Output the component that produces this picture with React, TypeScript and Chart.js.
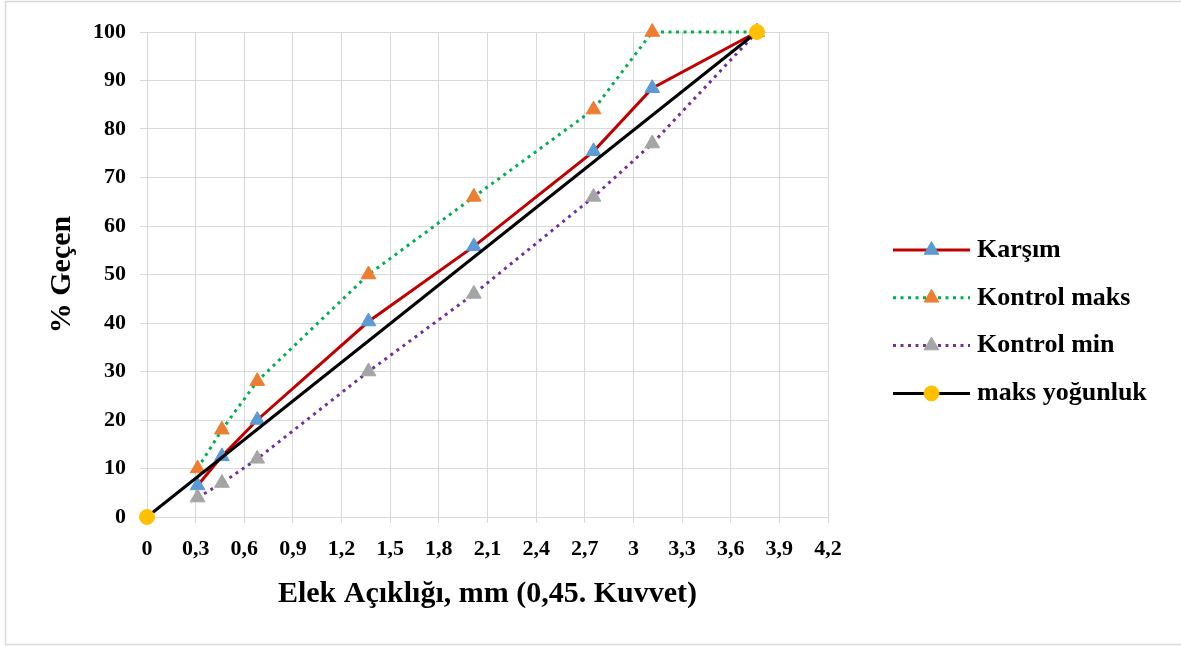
import React, { useEffect, useRef } from "react";
import { Chart, registerables } from "chart.js";

Chart.register(...registerables);

// Sieve opening raised to the 0.45 power (x), percent passing (y)
const sieveX = [0.312, 0.462, 0.68, 1.366, 2.016, 2.754, 3.116, 3.762];
const karsim = [6.5, 12.5, 20, 40.3, 55.8, 75.4, 88.4, 100];
const kontrolMaks = [10, 18, 28, 50, 66, 84, 100, 100];
const kontrolMin = [4, 7, 12, 30, 46, 66, 77, 100];
const maksYogunlukX = [0, 3.762];
const maksYogunlukY = [0, 100];
const xTickValues = [0, 0.3, 0.6, 0.9, 1.2, 1.5, 1.8, 2.1, 2.4, 2.7, 3, 3.3, 3.6, 3.9, 4.2];
const yTickValues = [0, 10, 20, 30, 40, 50, 60, 70, 80, 90, 100];
const seriesNames = ["Karşım", "Kontrol maks", "Kontrol min", "maks yoğunluk"];
const xTitle = "Elek Açıklığı, mm (0,45. Kuvvet)";
const yTitle = "% Geçen";

const FONT = "'Liberation Serif', 'Times New Roman', serif";

const toPoints = (xs: number[], ys: number[]) => xs.map((x, i) => ({ x, y: ys[i] }));

function drawMarker(ctx: CanvasRenderingContext2D, style: string, x: number, y: number, r: number, fill: string, stroke: string) {
  ctx.save();
  ctx.setLineDash([]);
  ctx.fillStyle = fill;
  ctx.strokeStyle = stroke;
  ctx.lineWidth = 1;
  ctx.beginPath();
  if (style === "triangle") {
    let rad = 0;
    const t = (2 * Math.PI) / 3;
    ctx.moveTo(x + Math.sin(rad) * r, y - Math.cos(rad) * r);
    rad += t;
    ctx.lineTo(x + Math.sin(rad) * r, y - Math.cos(rad) * r);
    rad += t;
    ctx.lineTo(x + Math.sin(rad) * r, y - Math.cos(rad) * r);
    ctx.closePath();
  } else {
    ctx.arc(x, y, r, 0, Math.PI * 2);
  }
  ctx.fill();
  ctx.stroke();
  ctx.restore();
}

const frameAndLegend = {
  id: "frameAndLegend",
  beforeDraw(chart: any) {
    const { ctx, width, height } = chart;
    ctx.save();
    ctx.fillStyle = "#ffffff";
    ctx.fillRect(0, 0, width, height);
    ctx.strokeStyle = "#D9D9D9";
    ctx.lineWidth = 1.5;
    ctx.strokeRect(5.5, 1.5, width + 10, height - 3);
    ctx.restore();
  },
  afterDraw(chart: any) {
    const { ctx } = chart;
    const startY = 250;
    const gap = 47.8;
    const lineX0 = 893;
    const lineX1 = 970;
    const textX = 977;
    ctx.save();
    chart.data.datasets.forEach((ds: any, i: number) => {
      const y = startY + i * gap;
      ctx.save();
      ctx.strokeStyle = ds.borderColor;
      ctx.lineWidth = ds.borderWidth;
      ctx.setLineDash(ds.borderDash || []);
      ctx.beginPath();
      ctx.moveTo(lineX0, y);
      ctx.lineTo(lineX1, y);
      ctx.stroke();
      ctx.restore();
      drawMarker(ctx, ds.pointStyle, (lineX0 + lineX1) / 2, y, ds.pointRadius, ds.pointBackgroundColor, ds.pointBorderColor);
      ctx.fillStyle = "#000000";
      ctx.font = `bold 26px ${FONT}`;
      ctx.textAlign = "left";
      ctx.textBaseline = "middle";
      ctx.fillText(ds.label, textX, y);
    });
    ctx.restore();
  },
};

export default function App() {
  const canvasRef = useRef<HTMLCanvasElement | null>(null);

  useEffect(() => {
    if (!canvasRef.current) return;
    const fmt = (v: number) => String(Number(v.toFixed(1))).replace(".", ",");
    const chart = new Chart(canvasRef.current, {
      type: "line",
      data: {
        datasets: [
          {
            label: seriesNames[0],
            data: toPoints(sieveX, karsim),
            borderColor: "#C00000",
            borderWidth: 3,
            pointStyle: "triangle",
            pointRadius: 8.5,
            pointBackgroundColor: "#5B9BD5",
            pointBorderColor: "#5B9BD5",
            pointBorderWidth: 1,
            order: 4,
            clip: false,
          },
          {
            label: seriesNames[1],
            data: toPoints(sieveX, kontrolMaks),
            borderColor: "#00B050",
            borderWidth: 3,
            borderDash: [3, 4.5],
            pointStyle: "triangle",
            pointRadius: 8.5,
            pointBackgroundColor: "#ED7D31",
            pointBorderColor: "#ED7D31",
            pointBorderWidth: 1,
            order: 3,
            clip: false,
          },
          {
            label: seriesNames[2],
            data: toPoints(sieveX, kontrolMin),
            borderColor: "#7030A0",
            borderWidth: 3,
            borderDash: [3, 4.5],
            pointStyle: "triangle",
            pointRadius: 8.5,
            pointBackgroundColor: "#A5A5A5",
            pointBorderColor: "#A5A5A5",
            pointBorderWidth: 1,
            order: 2,
            clip: false,
          },
          {
            label: seriesNames[3],
            data: toPoints(maksYogunlukX, maksYogunlukY),
            borderColor: "#000000",
            borderWidth: 3,
            pointStyle: "circle",
            pointRadius: 7.5,
            pointBackgroundColor: "#FFC000",
            pointBorderColor: "#FFC000",
            pointBorderWidth: 1,
            order: 1,
            clip: false,
          },
        ] as any,
      },
      options: {
        animation: false,
        responsive: false,
        maintainAspectRatio: false,
        layout: { padding: { left: 0, top: 32, right: 353, bottom: 0 } },
        plugins: {
          legend: { display: false },
          tooltip: { enabled: false },
        },
        elements: { line: { tension: 0 } },
        scales: {
          x: {
            type: "linear",
            min: 0,
            max: 4.2,
            afterBuildTicks: (scale: any) => {
              scale.ticks = xTickValues.map((v) => ({ value: v }));
            },
            afterFit: (scale: any) => {
              scale.height = 129;
            },
            grid: { color: "#D9D9D9", lineWidth: 1, tickLength: 6, drawTicks: true },
            border: { color: "#D9D9D9", width: 1 },
            ticks: {
              color: "#000000",
              font: { family: FONT, size: 22, weight: "bold" },
              padding: 13,
              maxRotation: 0,
              autoSkip: false,
              callback: (v: any) => fmt(Number(v)),
            },
            title: {
              display: true,
              text: xTitle,
              color: "#000000",
              font: { family: FONT, size: 30, weight: "bold" },
              padding: { top: 0, bottom: 34 },
            },
          },
          y: {
            type: "linear",
            min: 0,
            max: 100,
            afterBuildTicks: (scale: any) => {
              scale.ticks = yTickValues.map((v) => ({ value: v }));
            },
            afterFit: (scale: any) => {
              scale.width = 147;
            },
            grid: { color: "#D9D9D9", lineWidth: 1, tickLength: 7, drawTicks: true },
            border: { color: "#D9D9D9", width: 1 },
            ticks: {
              color: "#000000",
              font: { family: FONT, size: 22, weight: "bold" },
              padding: 14,
              autoSkip: false,
              callback: (v: any) => String(v),
            },
            title: {
              display: true,
              text: yTitle,
              color: "#000000",
              font: { family: FONT, size: 30, weight: "bold" },
              padding: { top: 44, bottom: 0 },
            },
          },
        },
      } as any,
      plugins: [frameAndLegend],
    });
    return () => chart.destroy();
  }, []);

  return (
    <div style={{ position: "fixed", left: 0, top: 0, width: 1181, height: 646, background: "#fff" }}>
      <canvas ref={canvasRef} width={1181} height={646} style={{ display: "block", width: 1181, height: 646 }} />
    </div>
  );
}
